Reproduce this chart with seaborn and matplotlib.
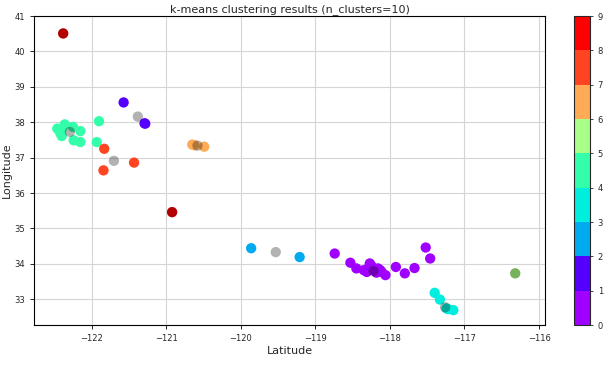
import numpy as np
import pandas as pd
import matplotlib
matplotlib.use("Agg")
import matplotlib.pyplot as plt
import seaborn as sns
from matplotlib.colors import ListedColormap, BoundaryNorm
from matplotlib.cm import ScalarMappable

# ---- data ----
lon = [
    # cluster 0 (Los Angeles area)
    -118.74, -118.53, -118.45, -118.27, -118.31, -118.16, -118.11, -118.06,
    -117.92, -117.80, -117.67, -117.52, -117.46, -118.20, -118.25, -118.13,
    -118.28, -118.18, -118.35,
    # cluster 1
    -121.57, -121.28, -121.29,
    # cluster 2
    -119.86, -119.21,
    # cluster 3 (San Diego)
    -117.40, -117.33, -117.24, -117.15, -117.22,
    # cluster 4 (Bay Area)
    -122.46, -122.36, -122.40, -122.25, -122.15, -122.24, -122.15, -121.90,
    -121.93, -122.43, -122.42, -122.40,
    # cluster 5
    -116.32,
    # cluster 6
    -120.65, -120.62, -120.49,
    # cluster 7
    -121.83, -121.84, -121.43,
    # cluster 8
    -122.38,
    # cluster 9
    -120.92,
]
lat = [
    34.29, 34.03, 33.87, 34.01, 33.77, 33.87, 33.77, 33.68,
    33.91, 33.73, 33.88, 34.46, 34.15, 33.80, 33.95, 33.82,
    33.90, 33.75, 33.82,
    38.56, 37.96, 37.97,
    34.44, 34.19,
    33.18, 32.99, 32.74, 32.69, 32.72,
    37.82, 37.94, 37.61, 37.87, 37.75, 37.49, 37.44, 38.03,
    37.44, 37.77, 37.70, 37.80,
    33.73,
    37.37, 37.35, 37.31,
    37.25, 36.64, 36.86,
    40.51,
    35.46,
]
labels = ([0] * 19 + [1] * 3 + [2] * 2 + [3] * 5 + [4] * 12 + [5] * 1
          + [6] * 3 + [7] * 3 + [8] * 1 + [9] * 1)

center_lon = [-118.22, -121.38, -119.53, -117.26, -122.29, -116.32,
              -120.58, -121.70, -122.38, -120.92]
center_lat = [33.79, 38.16, 34.33, 32.77, 37.73, 33.73,
              37.34, 36.91, 40.51, 35.46]

bin_colors = ["#a000ff", "#5500ff", "#00aaee", "#00eedd", "#33ffaa",
              "#aaff88", "#ffaa55", "#ff4422", "#ff0000"]

df = pd.DataFrame({"lon": lon, "lat": lat, "label": labels})
centers = pd.DataFrame({"lon": center_lon, "lat": center_lat})

cmap = ListedColormap(bin_colors)
norm = BoundaryNorm(np.arange(0, 10), cmap.N, clip=True)
palette = {k: cmap(norm(min(k, 8.5))) for k in range(10)}

sns.set_style("white")
plt.rcParams["font.family"] = ["DejaVu Sans"]

fig = plt.figure(figsize=(6.09, 3.66), dpi=100)
ax = fig.add_axes([0.056, 0.112, 0.839, 0.844])
cax = fig.add_axes([0.943, 0.112, 0.026, 0.844])

sns.scatterplot(data=df, x="lon", y="lat", hue="label", palette=palette,
                s=55, edgecolor="none", legend=False, ax=ax, zorder=3)
sns.scatterplot(data=centers, x="lon", y="lat", color="black", alpha=0.3,
                s=55, edgecolor="none", legend=False, ax=ax, zorder=4)

ax.set_xlim(-122.77, -115.92)
ax.set_ylim(32.27, 41.0)
ax.set_xticks(np.arange(-122, -115, 1))
ax.set_yticks(np.arange(33, 42, 1))
ax.grid(True, color="#d5d5d5", linewidth=0.8)
ax.set_axisbelow(True)
for sp in ax.spines.values():
    sp.set_color("black")
    sp.set_linewidth(0.8)
ax.tick_params(labelsize=6, length=3, width=0.6, color="black", left=True, bottom=True)
ax.set_xlabel("Latitude", fontsize=8, labelpad=2)
ax.set_ylabel("Longitude", fontsize=8, labelpad=2)
ax.set_title("k-means clustering results (n_clusters=10)", fontsize=8, pad=3)

sm = ScalarMappable(norm=norm, cmap=cmap)
cb = fig.colorbar(sm, cax=cax, ticks=np.arange(0, 10))
cb.ax.tick_params(labelsize=6, length=2, width=0.6)
cb.outline.set_linewidth(0.8)

fig.savefig("out.png", dpi=100)
